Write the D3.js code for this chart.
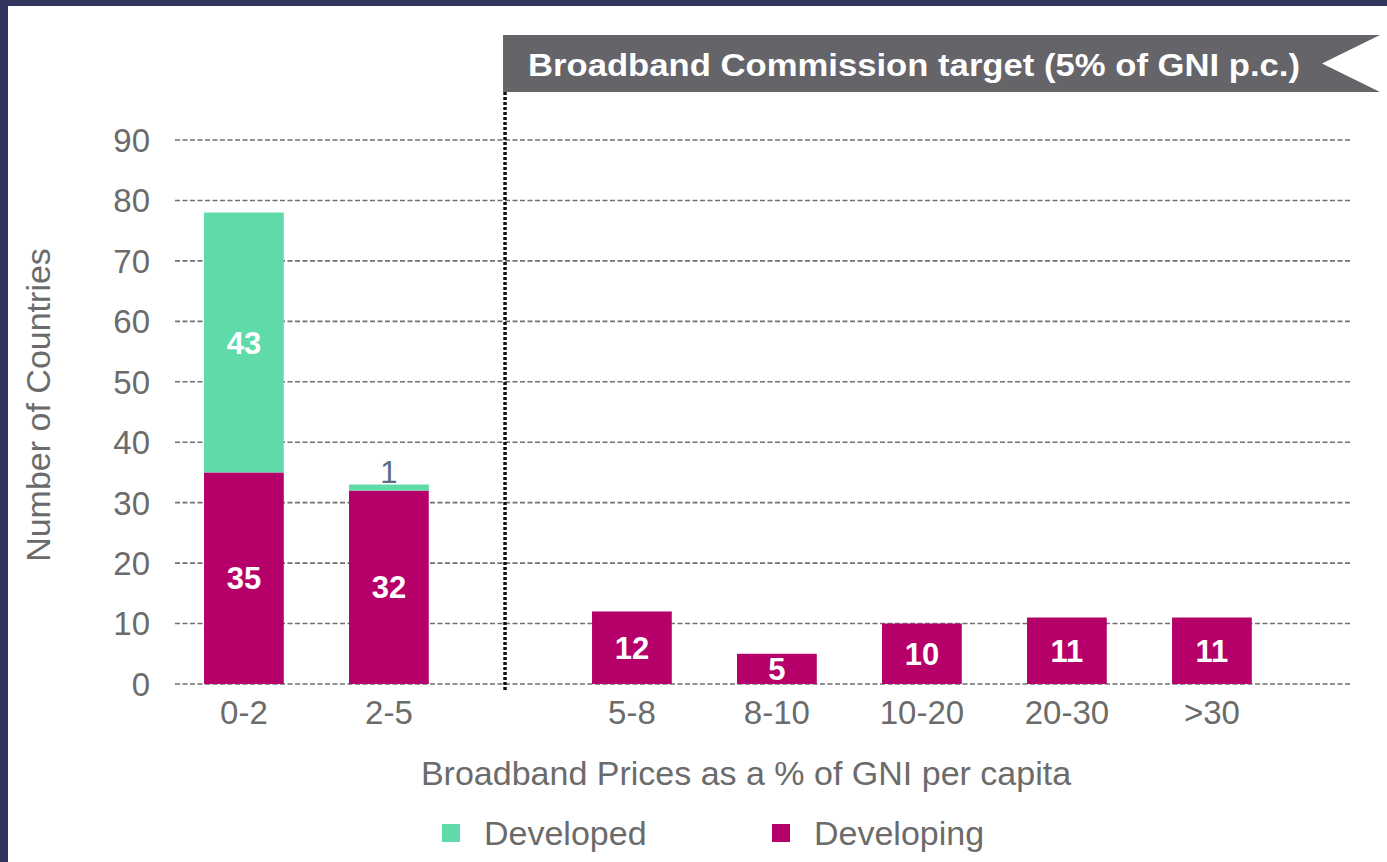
<!DOCTYPE html>
<html>
<head>
<meta charset="utf-8">
<script src="https://cdn.jsdelivr.net/npm/d3@7"></script>
<style>
  body { margin: 0; background: #32365f; }
  svg { display: block; }
  text { font-family: "Liberation Sans", Arial, sans-serif; }
</style>
</head>
<body>
<svg></svg>
<script>
// bins of broadband price as % of GNI per capita
var categories = ["0-2", "2-5", "5-8", "8-10", "10-20", "20-30", ">30"];
var developing = [35, 32, 12, 5, 10, 11, 11];
var developed = [43, 1, 0, 0, 0, 0, 0];
var yTicks = [0, 10, 20, 30, 40, 50, 60, 70, 80, 90];
var seriesNames = ["Developed", "Developing"];
var bannerText = "Broadband Commission target (5% of GNI p.c.)";

var svgWidth = 1387, svgHeight = 862;
var colors = { Developed: "#5fdaa9", Developing: "#b5006a" };
var textGray = "#6b6b6b";
var fontSize = "33px";

var svg = d3.select("svg")
    .attr("width", svgWidth)
    .attr("height", svgHeight);

// navy frame + white panel
svg.append("rect").attr("width", svgWidth).attr("height", svgHeight).attr("fill", "#32365f");
svg.append("rect").attr("x", 8).attr("y", 6)
    .attr("width", svgWidth - 8).attr("height", svgHeight - 6).attr("fill", "#fff");

var y = d3.scaleLinear().domain([0, 90]).range([684, 140]);

var x = d3.scaleBand()
    .domain(categories)
    .range([171.4, 1186.4])
    .paddingInner(0.45)
    .paddingOuter(0.225);

// the bins above the 5% target are pushed right to make room for the divider
var gapShift = 98;
function xPos(c) {
    return x(c) + (categories.indexOf(c) >= 2 ? gapShift : 0);
}

// gridlines
var grid = svg.append("g");
grid.selectAll("line")
    .data(yTicks)
    .enter()
    .append("line")
    .attr("x1", 175).attr("x2", 1350)
    .attr("y1", function (d) { return y(d); })
    .attr("y2", function (d) { return y(d); })
    .attr("stroke", "#707070")
    .attr("stroke-width", 1.6)
    .attr("stroke-dasharray", "5,2.5");

// y tick labels
svg.append("g").selectAll("text")
    .data(yTicks)
    .enter()
    .append("text")
    .attr("x", 150)
    .attr("y", function (d) { return y(d); })
    .attr("dy", "0.36em")
    .attr("text-anchor", "end")
    .attr("fill", textGray)
    .style("font-size", fontSize)
    .text(function (d) { return d; });

// stacked bars
var rows = categories.map(function (c, i) {
    return { cat: c, Developing: developing[i], Developed: developed[i] };
});
var stack = d3.stack().keys(["Developing", "Developed"]);
var layers = stack(rows);

var barG = svg.append("g");
layers.forEach(function (layer) {
    barG.selectAll(null)
        .data(layer.filter(function (d) { return d[1] > d[0]; }))
        .enter()
        .append("rect")
        .attr("x", function (d) { return xPos(d.data.cat); })
        .attr("width", x.bandwidth())
        .attr("y", function (d) { return y(d[1]); })
        .attr("height", function (d) { return y(d[0]) - y(d[1]); })
        .attr("fill", colors[layer.key]);

    // value labels: white inside the bar, grey above when the segment is thin
    barG.selectAll(null)
        .data(layer.filter(function (d) { return d[1] > d[0]; }))
        .enter()
        .append("text")
        .attr("x", function (d) { return xPos(d.data.cat) + x.bandwidth() / 2; })
        .attr("y", function (d) {
            var v = d[1] - d[0];
            return v < 3 ? y(d[1]) - 13 : y((d[0] + d[1]) / 2);
        })
        .attr("dy", "0.36em")
        .attr("text-anchor", "middle")
        .attr("fill", function (d) { return d[1] - d[0] < 3 ? "#5c6b86" : "#fff"; })
        .style("font-size", "31px")
        .style("font-weight", function (d) { return d[1] - d[0] < 3 ? "normal" : "bold"; })
        .text(function (d) { return d[1] - d[0]; });
});

// x tick labels
svg.append("g").selectAll("text")
    .data(categories)
    .enter()
    .append("text")
    .attr("x", function (d) { return xPos(d) + x.bandwidth() / 2; })
    .attr("y", 712)
    .attr("dy", "0.36em")
    .attr("text-anchor", "middle")
    .attr("fill", textGray)
    .style("font-size", fontSize)
    .text(function (d) { return d; });

// target divider
var divX = xPos("5-8") - 87;
svg.append("line")
    .attr("x1", divX).attr("x2", divX)
    .attr("y1", 92).attr("y2", 692)
    .attr("stroke", "#111")
    .attr("stroke-width", 3.5)
    .attr("stroke-dasharray", "3,2");

// banner with notched right end
svg.append("path")
    .attr("d", "M" + (divX - 2) + ",35 L1380,35 L1322,63.5 L1380,92 L" + (divX - 2) + ",92 Z")
    .attr("fill", "#646469");
svg.append("text")
    .attr("x", 528).attr("y", 64)
    .attr("dy", "0.36em")
    .attr("fill", "#fff")
    .attr("textLength", 772)
    .attr("lengthAdjust", "spacingAndGlyphs")
    .style("font-size", "32px")
    .style("font-weight", "bold")
    .text(bannerText);

// axis titles
svg.append("text")
    .attr("x", 746).attr("y", 773)
    .attr("dy", "0.36em")
    .attr("text-anchor", "middle")
    .attr("fill", textGray)
    .style("font-size", "34px")
    .text("Broadband Prices as a % of GNI per capita");

svg.append("text")
    .attr("transform", "translate(38,405) rotate(-90)")
    .attr("dy", "0.36em")
    .attr("text-anchor", "middle")
    .attr("fill", textGray)
    .style("font-size", "34px")
    .text("Number of Countries");

// legend
var legendX = [442, 772];
var legend = svg.append("g").selectAll("g")
    .data(seriesNames)
    .enter()
    .append("g")
    .attr("transform", function (d, i) { return "translate(" + legendX[i] + ",833)"; });
legend.append("rect")
    .attr("x", 0).attr("y", -9)
    .attr("width", 18).attr("height", 18)
    .attr("fill", function (d) { return colors[d]; });
legend.append("text")
    .attr("x", 42)
    .attr("dy", "0.36em")
    .attr("fill", textGray)
    .style("font-size", "34px")
    .text(function (d) { return d; });
</script>
</body>
</html>
